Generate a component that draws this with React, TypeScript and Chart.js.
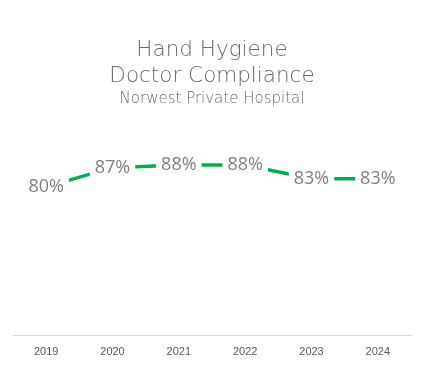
import React, { useEffect, useRef } from "react";
import { Chart, registerables } from "chart.js";

Chart.register(...registerables);

const years = ["2019", "2020", "2021", "2022", "2023", "2024"];
const compliance = [80, 87, 88, 88, 83, 83];
const titleLines = ["Hand Hygiene", "Doctor Compliance"];
const subtitleText = "Norwest Private Hospital";

const GRAY = "#7F7F7F";
const TITLE_GRAY = "#6A6A6A";
const GREEN = "#00B050";

const labelPlugin = {
  id: "pctLabels",
  afterDatasetsDraw(chart: any) {
    const ctx = chart.ctx;
    const meta = chart.getDatasetMeta(0);
    const data = chart.data.datasets[0].data as number[];
    ctx.save();
    ctx.font = "18px 'Open Sans', sans-serif";
    ctx.textAlign = "center";
    ctx.textBaseline = "middle";
    meta.data.forEach((pt: any, i: number) => {
      const txt = `${data[i]}%`;
      const w = ctx.measureText(txt).width;
      ctx.fillStyle = "#FFFFFF";
      ctx.fillRect(pt.x - w / 2 - 5, pt.y - 12, w + 10, 24);
      ctx.fillStyle = GRAY;
      ctx.fillText(txt, pt.x, pt.y);
    });
    ctx.restore();
  },
};

export default function App() {
  const ref = useRef<HTMLCanvasElement>(null);
  useEffect(() => {
    document.body.style.margin = "0";
    const chart = new Chart(ref.current!, {
      type: "line",
      data: {
        labels: years,
        datasets: [
          {
            data: compliance,
            borderColor: GREEN,
            borderWidth: 3.5,
            pointRadius: 0,
            tension: 0,
            fill: false,
          },
        ],
      },
      options: {
        responsive: false,
        animation: false,
        layout: { padding: { left: 13, right: 13, top: 0, bottom: 7 } },
        plugins: {
          legend: { display: false },
          tooltip: { enabled: false },
          title: {
            display: true,
            text: titleLines,
            color: TITLE_GRAY,
            font: { family: "'DejaVu Sans', sans-serif", size: 21.5, weight: "300", lineHeight: 1.21 },
            padding: { top: 37, bottom: 1 },
          },
          subtitle: {
            display: true,
            text: subtitleText,
            color: TITLE_GRAY,
            font: { family: "'DejaVu Sans', sans-serif", size: 15, weight: "300", lineHeight: 1.2 },
            padding: { top: 0, bottom: 13 },
          },
        },
        scales: {
          x: {
            offset: true,
            grid: { display: false, drawTicks: false, tickLength: 0 },
            border: { display: true, color: "#D9D9D9", width: 1 },
            ticks: {
              color: "#595959",
              padding: 10,
              font: { family: "'Liberation Sans', sans-serif", size: 11 },
            },
            afterFit(scale: any) {
              scale.height = 23;
            },
          },
          y: {
            display: false,
            min: 26,
            max: 104,
          },
        },
      },
      plugins: [labelPlugin],
    });
    return () => chart.destroy();
  }, []);
  return <canvas ref={ref} width={424} height={365} />;
}
